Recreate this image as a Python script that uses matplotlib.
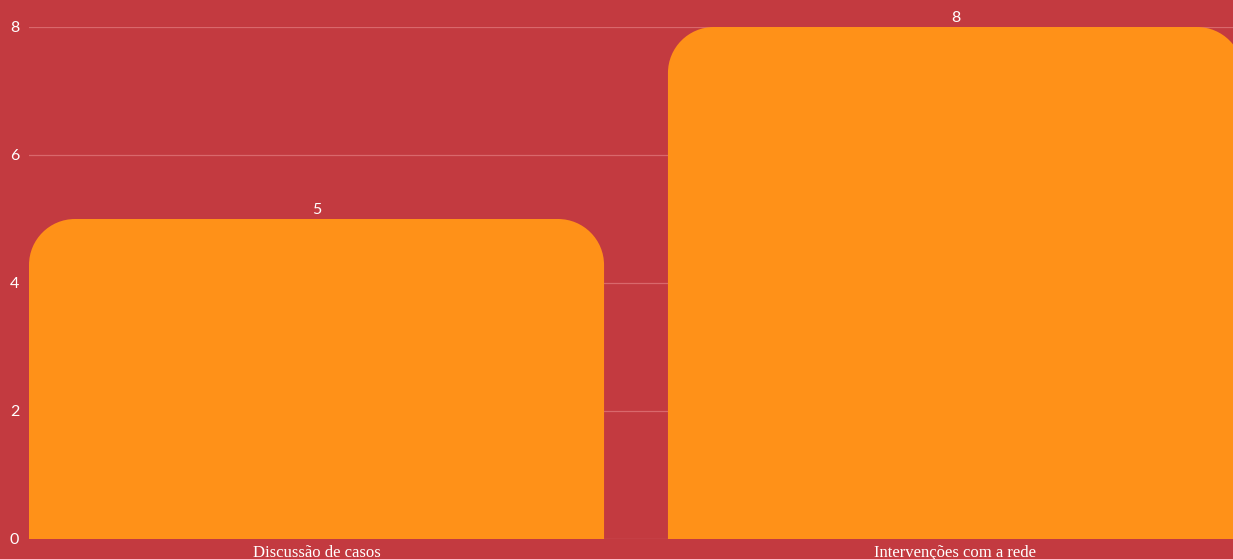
import matplotlib
matplotlib.use("Agg")
import matplotlib.pyplot as plt
from matplotlib.path import Path
from matplotlib.patches import PathPatch

categories = ["Discussão de casos", "Intervenções com a rede"]
values = [5, 8]
yticks = [0, 2, 4, 6, 8]

BG = "#C33A40"
BAR = "#FF9118"
GRID = "#D9686C"

W, H = 1233, 559
fig = plt.figure(figsize=(W / 100, H / 100), dpi=100, facecolor=BG)
left_px, right_px = 29, 1243
bottom_px, top_px = 539, 27
ax = fig.add_axes([left_px / W, (H - bottom_px) / H,
                   (right_px - left_px) / W, (bottom_px - top_px) / H])
ax.set_facecolor(BG)
ax.set_xlim(-0.45, 1.45)
ax.set_ylim(0, 8)

for s in ax.spines.values():
    s.set_visible(False)
ax.set_yticks(yticks)
ax.yaxis.grid(True, color=GRID, linewidth=0.9)
ax.set_axisbelow(True)
ax.tick_params(axis="y", length=0, colors="white", labelsize=11.5, pad=10.5)
ax.tick_params(axis="x", length=0, colors="white", pad=4)
ax.set_xticks(range(len(categories)))
ax.set_xticklabels(categories, fontsize=12, family="Liberation Serif")
for lbl in ax.get_yticklabels():
    lbl.set_family("Lato")
    lbl.set_horizontalalignment("center")

width = 0.9
px_per_x = (right_px - left_px) / 1.9
px_per_y = (bottom_px - top_px) / 8
r_px = 46
rx = r_px / px_per_x
ry = r_px / px_per_y
k = 0.5523

for i, v in enumerate(values):
    x0, x1 = i - width / 2, i + width / 2
    verts = [
        (x0, 0), (x0, v - ry),
        (x0, v - ry + k * ry), (x0 + rx - k * rx, v), (x0 + rx, v),
        (x1 - rx, v),
        (x1 - rx + k * rx, v), (x1, v - ry + k * ry), (x1, v - ry),
        (x1, 0), (x0, 0),
    ]
    codes = [Path.MOVETO, Path.LINETO,
             Path.CURVE4, Path.CURVE4, Path.CURVE4,
             Path.LINETO,
             Path.CURVE4, Path.CURVE4, Path.CURVE4,
             Path.LINETO, Path.CLOSEPOLY]
    ax.add_patch(PathPatch(Path(verts, codes), facecolor=BAR, edgecolor="none",
                           zorder=3, clip_on=False))
    ax.text(i, v + 2 / px_per_y, str(v), ha="center", va="bottom", color="white",
            fontsize=11.5, family="Lato", zorder=4)

fig.savefig("out.png", dpi=100, facecolor=BG)
